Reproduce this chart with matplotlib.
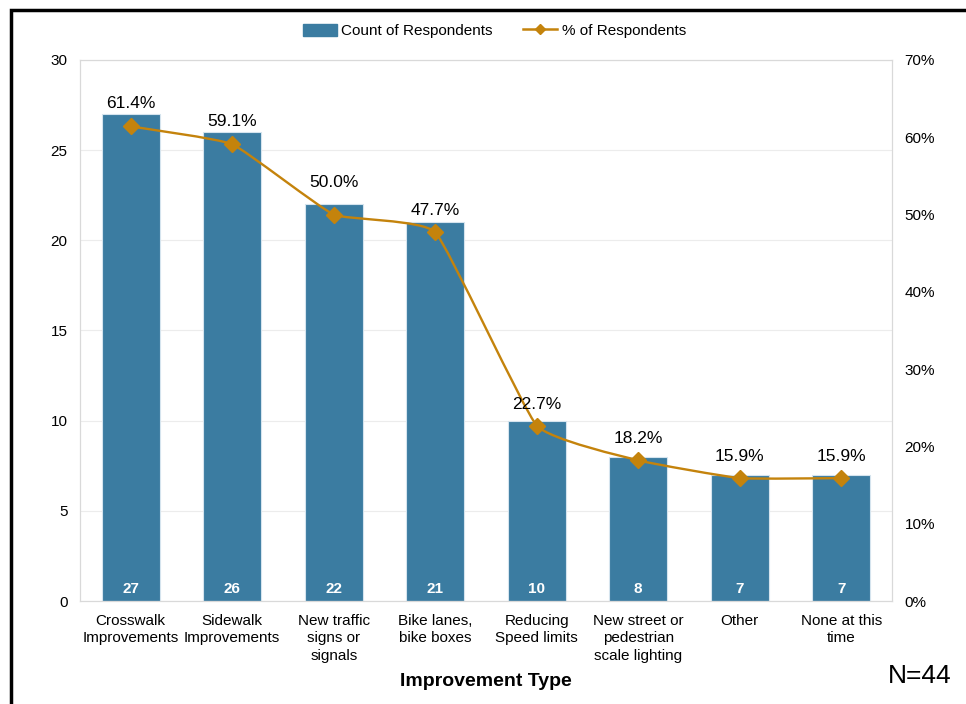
import numpy as np
import matplotlib.pyplot as plt
from matplotlib.path import Path
from matplotlib.patches import PathPatch, Rectangle
from matplotlib.lines import Line2D

plt.rcParams['font.family'] = ['Liberation Sans', 'DejaVu Sans']

categories = ['Crosswalk\nImprovements', 'Sidewalk\nImprovements', 'New traffic\nsigns or\nsignals',
              'Bike lanes,\nbike boxes', 'Reducing\nSpeed limits', 'New street or\npedestrian\nscale lighting',
              'Other', 'None at this\ntime']
counts = [27, 26, 22, 21, 10, 8, 7, 7]
pct = [61.4, 59.1, 50.0, 47.7, 22.7, 18.2, 15.9, 15.9]
label_offsets = [16.5, 16.5, 23, 15.5, 15.5, 16, 15.5, 15.5]  # points above each marker

bar_color = '#3b7ca1'
line_color = '#c4830c'

fig = plt.figure(figsize=(9.66, 7.04), dpi=100)
ax = fig.add_axes([0.0828, 0.1463, 0.8406, 0.7685])
ax2 = ax.twinx()

x = np.arange(len(categories))
ax.bar(x, counts, width=0.57, color=bar_color, edgecolor='#d5e4ee', linewidth=0.8, zorder=2)
for xi, c in zip(x, counts):
    ax.text(xi, 0.3, str(c), ha='center', va='bottom', color='white', fontsize=11,
            fontweight='bold', zorder=3)

ax.set_xlim(-0.5, len(categories) - 0.5)
ax.set_ylim(0, 30)
ax.set_yticks(range(0, 31, 5))
ax.yaxis.grid(True, color='#ececec', linewidth=0.8, zorder=0)
ax.set_axisbelow(True)
ax.set_xticks(x)
ax.set_xticklabels(categories, fontsize=11, linespacing=1.35)
ax.tick_params(axis='both', length=0, labelsize=11, colors='#000000')
ax.tick_params(axis='y', pad=9)
ax.tick_params(axis='x', pad=9)
ax.set_xlabel('Improvement Type', fontsize=14, fontweight='bold', labelpad=7)

# lightly smoothed percent line (Catmull-Rom style Bezier with low tension)
py = np.array(pct) / 100
pts = np.column_stack([x, py])
tension = 1 / 16
verts = [pts[0]]
codes = [Path.MOVETO]
for i in range(len(pts) - 1):
    p0 = pts[max(i - 1, 0)]
    p1 = pts[i]
    p2 = pts[i + 1]
    p3 = pts[min(i + 2, len(pts) - 1)]
    c1 = p1 + (p2 - p0) * tension
    c2 = p2 - (p3 - p1) * tension
    verts += [c1, c2, p2]
    codes += [Path.CURVE4] * 3
ax2.add_patch(PathPatch(Path(verts, codes), facecolor='none', edgecolor=line_color,
                        linewidth=1.7, zorder=3))
ax2.plot(x, py, linestyle='none', marker='D', markersize=8.5, color=line_color, zorder=4)
for xi, v, off in zip(x, pct, label_offsets):
    ax2.annotate(f'{v:.1f}%', (xi, v / 100), xytext=(0, off), textcoords='offset points',
                 ha='center', va='center', fontsize=12.5)

ax2.set_ylim(0, 0.7)
ax2.set_yticks(np.arange(0, 0.71, 0.1))
ax2.set_yticklabels([f'{int(round(t * 100))}%' for t in np.arange(0, 0.71, 0.1)])
ax2.tick_params(axis='y', length=0, labelsize=11, pad=9)

for a in (ax, ax2):
    for s in a.spines.values():
        s.set_color('#d9d9d9')
        s.set_linewidth(0.8)

handles = [Rectangle((0, 0), 1, 1, color=bar_color),
           Line2D([], [], color=line_color, marker='D', markersize=5, linewidth=1.8)]
fig.legend(handles, ['Count of Respondents', '% of Respondents'], loc='center',
           bbox_to_anchor=(0.512, 0.956), ncol=2, frameon=False, fontsize=11,
           handlelength=2.2, handleheight=0.8, columnspacing=2.0, handletextpad=0.3)

fig.text(0.952, 0.04, 'N=44', ha='center', va='center', fontsize=19)

# outer frame of the slide
fig.add_artist(Rectangle((11 / 966, -0.05), 1.1, 0.05 + 1 - 10 / 704, transform=fig.transFigure,
                         fill=False, edgecolor='black', linewidth=2.5))

fig.savefig('out.png', dpi=100)
